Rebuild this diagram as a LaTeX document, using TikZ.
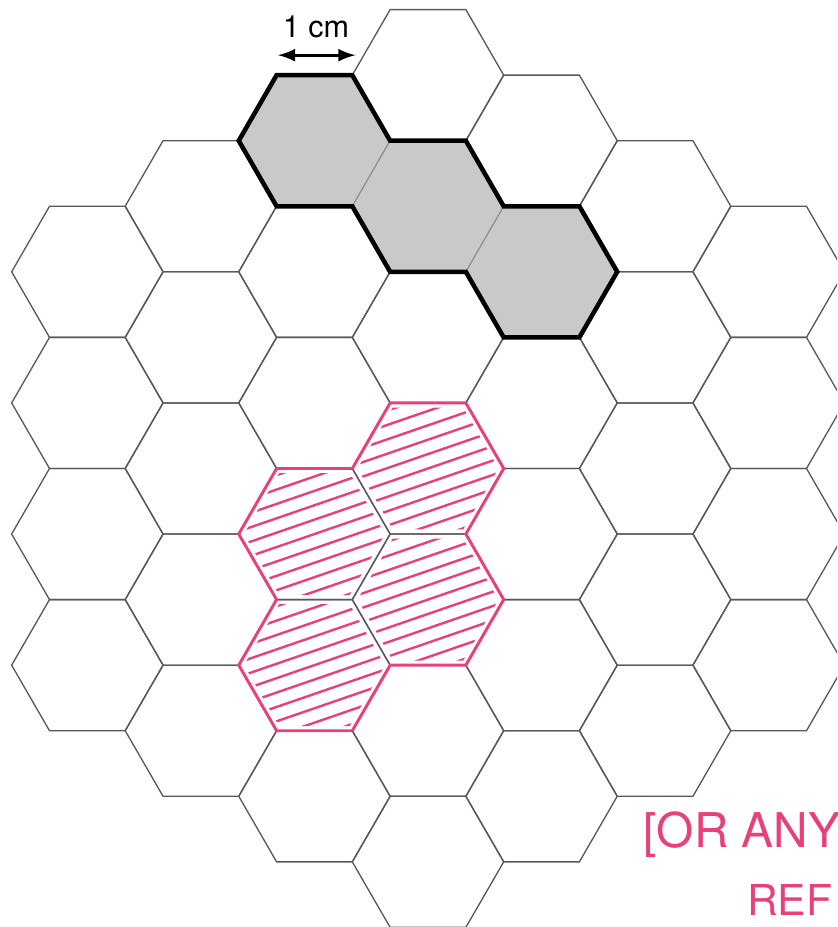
\documentclass[tikz,border=0pt]{standalone}
\usepackage{fontspec}
\setmainfont{TeX Gyre Heros}
\usepackage{tikz}
\definecolor{markerpink}{RGB}{232,64,120}

\begin{document}
\begin{tikzpicture}[
		hexline/.style={draw=black!65, line width=0.5pt},
		grayhex/.style={fill=black!21, draw=black!45, line width=0.4pt},
		boldline/.style={line width=1.7pt, line join=miter},
		hatchline/.style={markerpink, line width=0.9pt, line cap=round},
		pinkline/.style={markerpink, line width=1.1pt, line join=round},
		handtext/.style={markerpink, inner sep=0pt, font=\fontsize{18}{22}\selectfont}
	]
		\useasboundingbox (-5.654,-6.057) rectangle (5.403,6.189);
		\clip (-5.654,-6.057) rectangle (5.403,6.189);
		%Rutenett
		\foreach \c/\n in {-3/4,-2/5,-1/6,0/7,1/6,2/5,3/4}
			\foreach \i in {1,...,\n}
				\draw[hexline] ({1.5*\c},{sqrt(3)*(\i-(\n+1)/2)}) +(0:1) -- +(60:1) -- +(120:1) -- +(180:1) -- +(240:1) -- +(300:1) -- cycle;
		%Grå figur
		\foreach \x/\y in {-1.5/5, 0/4, 1.5/3}
			\filldraw[grayhex] (\x,{\y*0.866}) +(0:1) -- +(60:1) -- +(120:1) -- +(180:1) -- +(240:1) -- +(300:1) -- cycle;
		\draw[boldline] (-2.5,4.330) -- (-2,5.196) -- (-1,5.196) -- (-0.5,4.330) -- (0.5,4.330) -- (1,3.464) -- (2,3.464) -- (2.5,2.598) -- (2,1.732) -- (1,1.732) -- (0.5,2.598) -- (-0.5,2.598) -- (-1,3.464) -- (-2,3.464) -- cycle;
		\coordinate (la) at (-1.98,5.46);
		\coordinate (lb) at (-0.96,5.46);
		\draw [very thick, <->, >=latex] (la) -- (lb);
		\node (len) at (-1.48,5.83) {\fontsize{11.5}{13}\selectfont 1 cm};
		%Skravert figur
		\foreach \x/\y in {0/0, 0/-2, -1.5/-1, -1.5/-3} {
			\begin{scope}
				\clip (\x,{\y*0.866}) +(0:0.93) -- +(60:0.93) -- +(120:0.93) -- +(180:0.93) -- +(240:0.93) -- +(300:0.93) -- cycle;
				\foreach \k in {-5,...,5}
					\draw[hatchline] (\x,{\y*0.866}) ++(-1.2,{0.19*\k-0.413}) -- ++(19:2.6);
			\end{scope}
		}
		\draw[pinkline] (-0.5,0.866) -- (0.5,0.866) -- (1,0) -- (0.5,-0.866) -- (1,-1.732) -- (0.5,-2.598) -- (-0.5,-2.598) -- (-1,-3.464) -- (-2,-3.464) -- (-2.5,-2.598) -- (-2,-1.732) -- (-2.5,-0.866) -- (-2,0) -- (-1,0) -- cycle;
		\node[handtext, anchor=base west] (note) at (2.84,-5.01) {[OR ANY};
		\node[handtext, anchor=base west, font=\fontsize{16}{19}\selectfont] (ref) at (4.21,-5.91) {REF};
	\end{tikzpicture}
\end{document}
